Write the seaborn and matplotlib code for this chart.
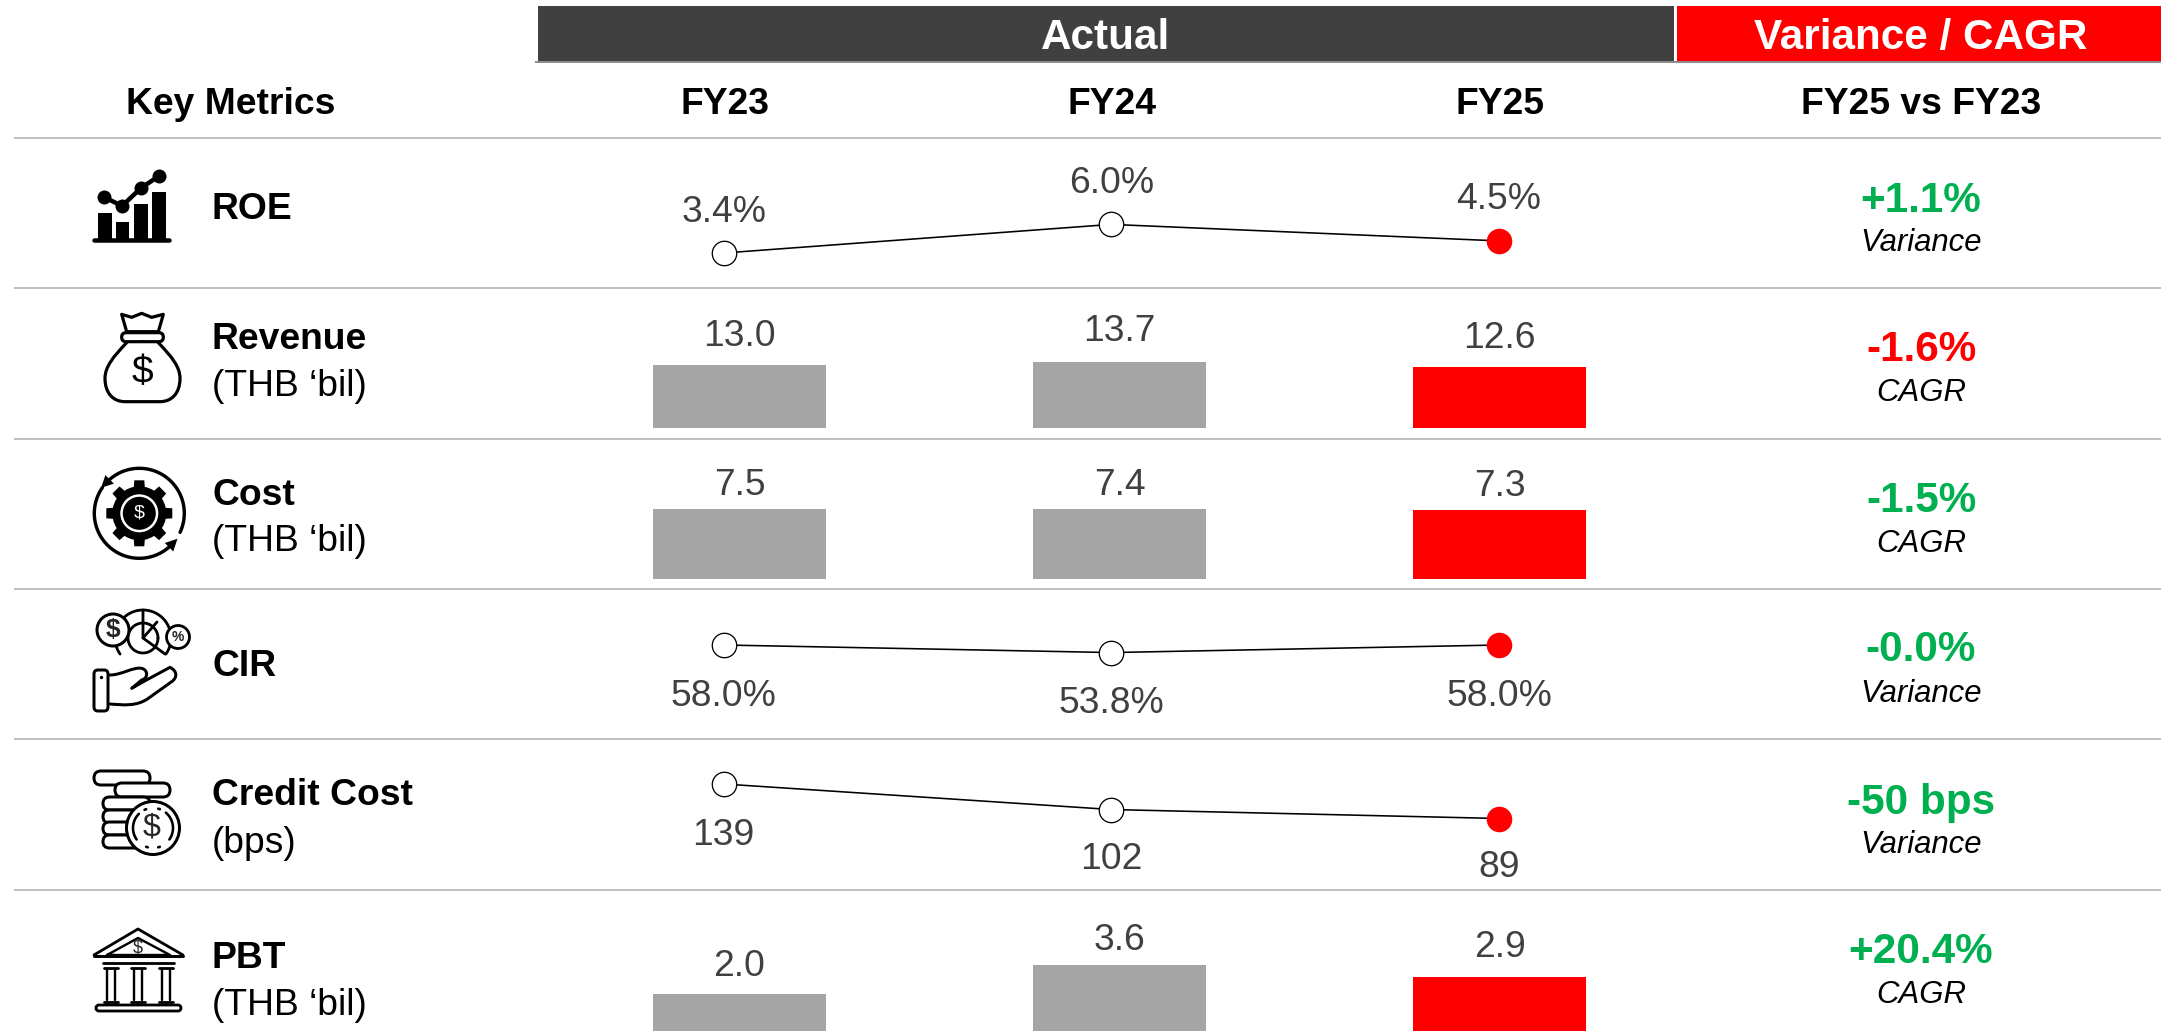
import numpy as np
import matplotlib
matplotlib.use("Agg")
import matplotlib.pyplot as plt
from matplotlib.patches import Circle, FancyBboxPatch, PathPatch, Polygon, Rectangle
from matplotlib.path import Path
import pandas as pd
import seaborn as sns

# ---- values ----
periods = ["FY23", "FY24", "FY25"]
roe = [3.4, 6.0, 4.5]
revenue = [13.0, 13.7, 12.6]
cost = [7.5, 7.4, 7.3]
cir = [58.0, 53.8, 58.0]
credit_cost = [139, 102, 89]
pbt = [2.0, 3.6, 2.9]

roe_labels = ["3.4%", "6.0%", "4.5%"]
revenue_labels = ["13.0", "13.7", "12.6"]
cost_labels = ["7.5", "7.4", "7.3"]
cir_labels = ["58.0%", "53.8%", "58.0%"]
credit_labels = ["139", "102", "89"]
pbt_labels = ["2.0", "3.6", "2.9"]

change_text = ["+1.1%", "-1.6%", "-1.5%", "-0.0%", "-50 bps", "+20.4%"]
change_kind = ["Variance", "CAGR", "CAGR", "Variance", "Variance", "CAGR"]
change_good = [True, False, True, True, True, True]

metric_names = ["ROE", "Revenue", "Cost", "CIR", "Credit Cost", "PBT"]
metric_units = [None, "(THB ‘bil)", "(THB ‘bil)", None, "(bps)", "(THB ‘bil)"]

# ---- styling and layout, in canvas pixels ----
W, H = 2161, 1035
DARK, RED, GREY, GREEN = "#404040", "#FF0000", "#A5A5A5", "#00B050"
RULE = "#BFBFBF"
FONT = "Liberation Sans"
PX = 0.72  # points per pixel at 100 dpi
CAP = 0.358  # half cap height, in em
BODY = 26.8

sns.set_theme(style="white")
plt.rcParams["font.family"] = [FONT, "DejaVu Sans"]

fig = plt.figure(figsize=(W / 100, H / 100), dpi=100, facecolor="white")

# Canvas-wide layers for the table furniture, text and icons
bg = fig.add_axes([0, 0, 1, 1], zorder=0)
bg.set_xlim(0, W)
bg.set_ylim(H, 0)
bg.axis("off")

fg = fig.add_axes([0, 0, 1, 1], zorder=5)
fg.set_xlim(0, W)
fg.set_ylim(H, 0)
fg.axis("off")
fg.patch.set_alpha(0)


def put(x, y, s, size, color="black", weight="normal", style="normal", ha="center"):
    """Place text with its capitals centred vertically on y."""
    em = size / PX
    bg.text(x, y + CAP * em, s, fontsize=size, color=color, fontweight=weight,
            fontstyle=style, ha=ha, va="baseline", parse_math=False)


# Header bands
bg.add_patch(Rectangle((538, 6), 1136, 55, color=DARK, lw=0))
bg.add_patch(Rectangle((1677, 6), 484, 55, color=RED, lw=0))
bg.plot([535, W], [61.5, 61.5], color="#8C8C8C", lw=2 * PX, solid_capstyle="butt")
put(1106, 34, "Actual", 30.4, "white", "bold")
put(1921, 34, "Variance / CAGR", 30.4, "white", "bold")

# Column headings
put(231, 101, "Key Metrics", BODY, weight="bold")
for cx, name in zip([725, 1112, 1500], periods):
    put(cx, 101, name, BODY, weight="bold")
put(1921, 101, "FY25 vs FY23", BODY, weight="bold")

# Row rules
rows = [138, 288, 439, 589, 739, 890, H]
for y in rows[:-1]:
    bg.plot([14, W], [y, y], color=RULE, lw=2 * PX, solid_capstyle="butt")

# Left-hand metric names
name_y = [206, 336, 492, 663, 792, 955]
unit_y = [None, 383, 538, None, 840, 1002]
for name, unit, ny, uy in zip(metric_names, metric_units, name_y, unit_y):
    put(212, ny, name, BODY, weight="bold", ha="left")
    if unit:
        put(212, uy, unit, BODY, ha="left")

# Right-hand change column
chg_y = [197, 346, 497, 646, 799, 948]
kind_y = [240, 390, 541, 691, 842, 992]
for txt, kind, good, y1, y2 in zip(change_text, change_kind, change_good, chg_y, kind_y):
    put(1921, y1, txt, 30.4, GREEN if good else RED, "bold")
    put(1921, y2, kind, 22.4, style="italic")

# ---- small multiples: one axes per row ----
PLOT_L, PLOT_R = 540, 1670


def row_axes(top, bottom):
    ax = fig.add_axes([PLOT_L / W, 1 - bottom / H, (PLOT_R - PLOT_L) / W, (bottom - top) / H],
                      zorder=3)
    ax.patch.set_alpha(0)
    return ax


def bar_row(values, labels, top, bottom, base, scale, gaps):
    ax = row_axes(top, bottom)
    frame = pd.DataFrame({"period": periods, "value": values})
    sns.barplot(data=frame, x="period", y="value", hue="period",
                palette=[GREY, GREY, RED], saturation=1, width=173 / 380,
                legend=False, ax=ax, linewidth=0)
    ax.set_xlim((PLOT_L - 739.5) / 380, (PLOT_R - 739.5) / 380)
    ax.set_ylim((base - bottom) / scale, (base - top) / scale)
    ax.axis("off")
    for i, (v, lab, gap) in enumerate(zip(values, labels, gaps)):
        ax.annotate(lab, (i, v), xytext=(0, gap * PX), textcoords="offset points",
                    ha="center", va="center_baseline", fontsize=BODY, color=DARK,
                    annotation_clip=False)


def line_row(values, labels, top, bottom, anchor_px, scale, offsets):
    ax = row_axes(top, bottom)
    frame = pd.DataFrame({"pos": [0, 1, 2], "value": values})
    sns.lineplot(data=frame, x="pos", y="value", color="black", lw=1.6 * PX, ax=ax, zorder=2)
    sns.scatterplot(data=frame.iloc[:2], x="pos", y="value", s=17.6 ** 2, color="white",
                    edgecolor="black", linewidth=1.3 * PX, ax=ax, zorder=3, clip_on=False)
    sns.scatterplot(data=frame.iloc[2:], x="pos", y="value", s=18.4 ** 2, color=RED,
                    edgecolor=RED, linewidth=0, ax=ax, zorder=3, clip_on=False)
    step = (1499 - 723.7) / 2
    ax.set_xlim((PLOT_L - 723.7) / step, (PLOT_R - 723.7) / step)
    v0 = values[0]
    ax.set_ylim(v0 + (anchor_px - bottom) / scale, v0 + (anchor_px - top) / scale)
    ax.axis("off")
    for i, (v, lab, off) in enumerate(zip(values, labels, offsets)):
        ax.annotate(lab, (i, v), xytext=(0, off * PX), textcoords="offset points",
                    ha="center", va="center_baseline", fontsize=BODY, color=DARK,
                    annotation_clip=False)


line_row(roe, roe_labels, rows[0], rows[1], 253, 11.0, [45, 45, 45])
bar_row(revenue, revenue_labels, rows[1], rows[2], 428, 4.82, [33, 34, 33])
bar_row(cost, cost_labels, rows[2], rows[3], 579, 9.4, [27, 28, 28])
line_row(cir, cir_labels, rows[3], rows[4], 645, 1.8, [-47, -47, -47])
line_row(credit_cost, credit_labels, rows[4], rows[5], 784, 0.69, [-47, -46, -45])
bar_row(pbt, pbt_labels, rows[5], rows[6], 1031, 18.45, [32, 28, 34])


# ---- icons, drawn as simple line art ----
def curve(ox, oy, scale, segs, lw, fill="none", closed=False):
    """Bezier outline; segs is a start point followed by 1- or 3-point segments."""
    verts = [segs[0]]
    codes = [Path.MOVETO]
    for seg in segs[1:]:
        if len(seg) == 1:
            verts += seg
            codes += [Path.LINETO]
        else:
            verts += seg
            codes += [Path.CURVE4] * 3
    if closed:
        verts.append(segs[0])
        codes.append(Path.CLOSEPOLY)
    verts = [(ox + x / scale, oy + y / scale) for x, y in verts]
    fg.add_patch(PathPatch(Path(verts, codes), lw=lw * PX, edgecolor="black", facecolor=fill,
                           capstyle="round", joinstyle="round"))


def arc(cx, cy, r, a0, a1, lw, color="black"):
    t = np.radians(np.linspace(a0, a1, 60))
    fg.plot(cx + r * np.cos(t), cy - r * np.sin(t), color=color, lw=lw * PX, solid_capstyle="round")


def pill(x0, y0, x1, y1, lw, fill="white"):
    h = y1 - y0
    fg.add_patch(FancyBboxPatch((x0 + h / 2, y0 + h / 2), x1 - x0 - h, 0.01,
                                boxstyle=f"round,pad={h / 2},rounding_size={h / 2}",
                                lw=lw * PX, edgecolor="black", facecolor=fill))


def dollar(x, y, size, color="black"):
    fg.text(x, y, "$", fontsize=size, ha="center", va="center", color=color, parse_math=False)


# ROE: rising bars with a trend line
for x0, x1, top in [(98.3, 111.7, 213), (116, 129.3, 222), (134.3, 147.7, 204), (152.3, 165.7, 192)]:
    fg.add_patch(Rectangle((x0, top), x1 - x0, 239 - top, color="black", lw=0))
fg.plot([94, 169], [240, 240], color="black", lw=4.5 * PX, solid_capstyle="round")
tx, ty = [104, 122, 141, 159], [197, 206, 188, 176]
fg.plot(tx, ty, color="white", lw=8 * PX, zorder=2)
fg.plot(tx, ty, color="black", lw=4.5 * PX, zorder=3)
fg.scatter(tx, ty, s=(14 * PX) ** 2, color="black", lw=0, zorder=4)

# Revenue: money bag
bag = (80, 160, 3)
curve(*bag, [(125, 463), [(155, 472)], [(185, 460)], [(215, 472)], [(250, 463)], [(235, 515)], [(140, 515)]],
      3.2, closed=True)
pill(80 + 125 / 3, 160 + 518 / 3, 80 + 250 / 3, 160 + 545 / 3, 3.2)
curve(*bag, [(140, 548), [(100, 590), (75, 620), (75, 655)], [(75, 700), (100, 725), (135, 725)],
             [(240, 725)], [(275, 725), (300, 700), (300, 655)], [(300, 620), (275, 590), (235, 548)]], 3.2)
dollar(80 + 187 / 3, 160 + 640 / 3, 28)
fg.scatter([80 + 187 / 3], [160 + 543 / 3], s=5, color="black", lw=0)

# Cost: gear inside a circular arrow
gx, gy = 139.3, 513.3
arc(gx, gy, 45, -25, 133, 3.4)
arc(gx, gy, 45, 145, 313, 3.4)
for ang in [135, 315]:
    a = np.radians(ang)
    tip = np.array([gx + 45 * np.cos(a), gy - 45 * np.sin(a)])
    tang = -np.array([np.sin(a), np.cos(a)])
    nrm = np.array([np.cos(a), -np.sin(a)])
    tip2 = tip + tang * 9
    back = tip - tang * 3
    fg.add_patch(Polygon([tip2, back + nrm * 6, back - nrm * 6], color="black", lw=0))
for k in range(8):
    a = np.radians(k * 45)
    d = np.array([np.cos(a), np.sin(a)])
    n = np.array([-d[1], d[0]])
    c = np.array([gx, gy])
    fg.add_patch(Polygon([c + d * 20 + n * 6, c + d * 33 + n * 5, c + d * 33 - n * 5, c + d * 20 - n * 6],
                         color="black", lw=0))
fg.add_patch(Circle((gx, gy), 27, color="black", lw=0))
fg.add_patch(Circle((gx, gy), 19, color="white", lw=0))
fg.add_patch(Circle((gx, gy), 16.5, color="black", lw=0))
dollar(gx, gy, 14, "white")

# CIR: coins and pie chart over an open hand
pie_x, pie_y = 143, 638
arc(pie_x, pie_y, 28, -35, 215, 2.8)
arc(pie_x, pie_y, 15, 0, 360, 2.8)
fg.plot([pie_x, pie_x, pie_x + 22], [pie_y - 28, pie_y, pie_y + 16], color="black", lw=2.8 * PX)
fg.plot([pie_x, pie_x + 14], [pie_y, pie_y - 16], color="black", lw=2.8 * PX)
fg.add_patch(Circle((113, 630), 16, edgecolor="black", facecolor="white", lw=3 * PX, zorder=3))
fg.text(113, 630, "$", fontsize=19, fontweight="bold", ha="center", va="center", parse_math=False, zorder=4)
fg.add_patch(Circle((178, 637), 11.5, edgecolor="black", facecolor="white", lw=2.8 * PX, zorder=3))
fg.text(178, 637, "%", fontsize=10, fontweight="bold", ha="center", va="center", parse_math=False, zorder=4)
fg.add_patch(FancyBboxPatch((96, 672), 10, 37, boxstyle="round,pad=2,rounding_size=4",
                            lw=3 * PX, edgecolor="black", facecolor="white"))
fg.scatter([101], [677], s=6, color="black", lw=0)
curve(0, 430, 3, [(330, 735), [(365, 735), (400, 710), (425, 715)], [(445, 720), (445, 745), (425, 750)],
                  [(395, 775)], [(430, 755)], [(510, 712)], [(535, 725), (530, 745), (515, 755)],
                  [(445, 805)], [(410, 830), (370, 825), (330, 822)]], 3)

# Credit cost: coin stacks
pill(94, 771, 150, 785, 3)
pill(115, 783, 170, 797, 3)
for y0 in [797, 810, 822, 835]:
    pill(103, y0, 150, y0 + 13, 3)
fg.add_patch(Circle((153, 828), 26.5, edgecolor="black", facecolor="white", lw=3 * PX, zorder=3))
for a0, a1 in [(-35, 50), (70, 75), (110, 115), (135, 215), (250, 255), (285, 290)]:
    t = np.radians(np.linspace(a0, a1, 30))
    fg.plot(153 + 20 * np.cos(t), 828 - 20 * np.sin(t), color="black", lw=2.6 * PX, zorder=4)
fg.text(152, 828, "$", fontsize=23, ha="center", va="center", parse_math=False, zorder=4)

# PBT: bank building
fg.plot([94, 138, 183], [955, 929, 955], color="black", lw=2.8 * PX, solid_joinstyle="round", solid_capstyle="round")
fg.plot([107, 138, 170, 107], [955, 938, 955, 955], color="black", lw=2.4 * PX, solid_joinstyle="round")
fg.text(138, 948, "$", fontsize=13, ha="center", va="center", parse_math=False)
fg.plot([94, 183], [956, 956], color="black", lw=3 * PX)
fg.plot([103, 174], [963, 963], color="black", lw=2.8 * PX)
for cx in [111, 138, 166]:
    fg.plot([cx - 7, cx + 7], [968, 968], color="black", lw=2.8 * PX, solid_capstyle="round")
    fg.plot([cx - 4, cx - 4], [970, 1000], color="black", lw=2.4 * PX)
    fg.plot([cx + 4, cx + 4], [970, 1000], color="black", lw=2.4 * PX)
    fg.plot([cx - 7, cx + 7], [1002, 1002], color="black", lw=2.8 * PX, solid_capstyle="round")
pill(96, 1005, 181, 1011, 2.8, fill="white")

fig.savefig("out.png", dpi=100, facecolor="white")
